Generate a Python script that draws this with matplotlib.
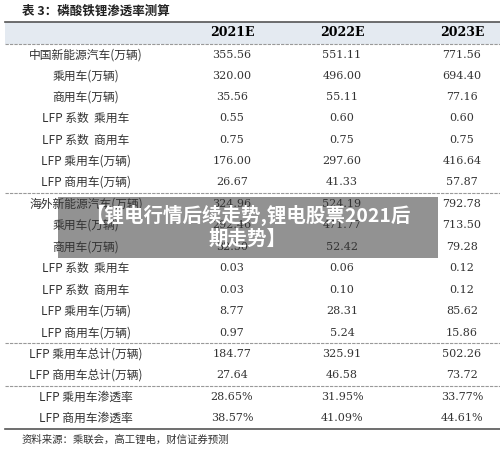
import matplotlib
matplotlib.use("Agg")
import matplotlib.pyplot as plt
from matplotlib.patches import Rectangle

plt.rcParams['font.family'] = ['Noto Sans CJK SC', 'DejaVu Sans']

title = "表 3：磷酸铁锂渗透率测算"
columns = ["2021E", "2022E", "2023E"]
row_labels = ["中国新能源汽车(万辆)", "乘用车(万辆)", "商用车(万辆)", "LFP 系数  乘用车", "LFP 系数  商用车",
              "LFP 乘用车(万辆)", "LFP 商用车(万辆)",
              "海外新能源汽车(万辆)", "乘用车(万辆)", "商用车(万辆)", "LFP 系数  乘用车", "LFP 系数  商用车",
              "LFP 乘用车(万辆)", "LFP 商用车(万辆)",
              "LFP 乘用车总计(万辆)", "LFP 商用车总计(万辆)",
              "LFP 乘用车渗透率", "LFP 商用车渗透率"]
v2021 = ["355.56", "320.00", "35.56", "0.55", "0.75", "176.00", "26.67",
         "324.96", "292.46", "32.50", "0.03", "0.03", "8.77", "0.97",
         "184.77", "27.64", "28.65%", "38.57%"]
v2022 = ["551.11", "496.00", "55.11", "0.60", "0.75", "297.60", "41.33",
         "524.19", "471.77", "52.42", "0.06", "0.10", "28.31", "5.24",
         "325.91", "46.58", "31.95%", "41.09%"]
v2023 = ["771.56", "694.40", "77.16", "0.60", "0.75", "416.64", "57.87",
         "792.78", "713.50", "79.28", "0.12", "0.12", "85.62", "15.86",
         "502.26", "73.72", "33.77%", "44.61%"]
source = "资料来源：乘联会，高工锂电，财信证券预测"
banner = "【锂电行情后续走势,锂电股票2021后\n期走势】"

W, H = 500, 455
fig = plt.figure(figsize=(5, 4.55), dpi=100)
ax = fig.add_axes([0, 0, 1, 1])
ax.set_xlim(0, W); ax.set_ylim(H, 0); ax.axis('off')

ax.text(22, 11, title, fontsize=9, fontweight='bold', va='center', ha='left', color='#222')
ax.add_patch(Rectangle((5, 22), 495, 22, color='#e4eaf1', lw=0))
ax.plot([5, 500], [22, 22], color='#555', lw=1.2)
ax.plot([5, 500], [44, 44], color='#999', lw=0.8, ls=(0, (3, 1)))
colx = [232, 342, 462]
for x, c in zip(colx, columns):
    ax.text(x, 33, c, fontsize=9, fontweight='bold', ha='center', va='center', family='DejaVu Serif')

ys = [55, 76, 97, 118, 140, 161, 182, 204, 225, 247, 268, 290, 311, 333, 354, 375, 397, 418]
for i, y in enumerate(ys):
    ax.text(86, y, row_labels[i], fontsize=8.5, ha='center', va='center', color='#333')
    for x, vals in zip(colx, [v2021, v2022, v2023]):
        ax.text(x, y, vals[i], fontsize=8, ha='center', va='center', color='#333', family='DejaVu Serif')
for y in [193, 343, 386]:
    ax.plot([5, 500], [y, y], color='#999', lw=0.8, ls=(0, (3, 1)))
ax.plot([5, 500], [429, 429], color='#555', lw=1.2)
ax.text(22, 440, source, fontsize=7.5, ha='left', va='center', color='#333', style='italic')

ax.add_patch(Rectangle((58, 197), 380, 61, color='#7f7f7f', alpha=0.85, lw=0))
ax.text(248, 227, banner, fontsize=14, fontweight='bold', color='white', ha='center', va='center', linespacing=1.2)

fig.savefig("out.png", dpi=100)
